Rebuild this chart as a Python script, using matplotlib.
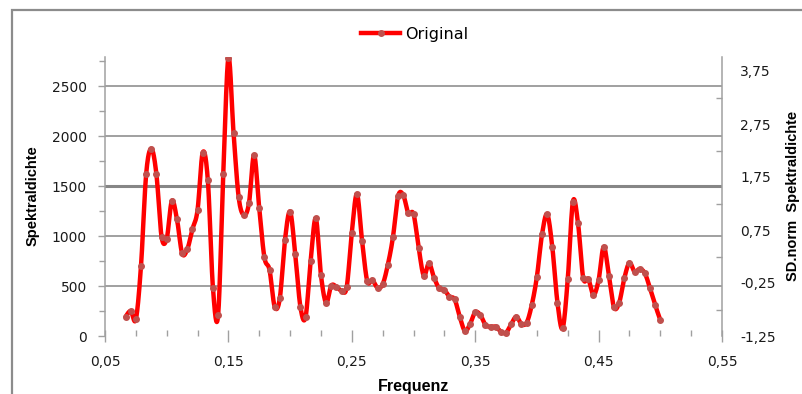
import numpy as np
import matplotlib
matplotlib.use("Agg")
import matplotlib.pyplot as plt
from matplotlib.patches import Rectangle
from matplotlib.lines import Line2D

# Frequency bins k/240, k = 16 .. 120
bin_index = list(range(16, 121))
frequency = [k / 240 for k in bin_index]

spectral_density = [
    193, 250, 167, 700, 1617, 1873, 1617, 993, 973, 1350,
    1167, 827, 867, 1067, 1260, 1833, 1560, 477, 210, 1620,
    2780, 2033, 1387, 1210, 1327, 1810, 1277, 787, 660, 293,
    377, 960, 1243, 820, 293, 187, 753, 1177, 610, 333,
    503, 493, 453, 487, 1033, 1420, 950, 550, 560, 483,
    517, 710, 987, 1397, 1410, 1227, 1220, 883, 603, 727,
    583, 477, 460, 393, 367, 193, 50, 120, 237, 210,
    110, 93, 93, 43, 33, 120, 193, 120, 133, 310,
    593, 1017, 1217, 887, 333, 77, 567, 1343, 1127, 583,
    570, 410, 560, 893, 603, 287, 333, 577, 733, 643,
    670, 627, 477, 310, 160,
]

x_ticks = [0.05, 0.15, 0.25, 0.35, 0.45, 0.55]
x_tick_labels = ["0,05", "0,15", "0,25", "0,35", "0,45", "0,55"]
y_ticks = [0, 500, 1000, 1500, 2000, 2500]
y_tick_labels = ["0", "500", "1000", "1500", "2000", "2500"]
norm_ticks = [-1.25, -0.25, 0.75, 1.75, 2.75, 3.75]
norm_tick_labels = ["-1,25", "-0,25", "0,75", "1,75", "2,75", "3,75"]

# normalisation used for the secondary axis
sd_mean = 662.5
sd_std = 530.0
y_max = 2790


def smooth_curve(xs, ys, steps=16):
    """Bezier smoothing through all points (Catmull-Rom style control points)."""
    xs = np.asarray(xs, float)
    ys = np.asarray(ys, float)
    px = np.concatenate([[xs[0]], xs, [xs[-1]]])
    py = np.concatenate([[ys[0]], ys, [ys[-1]]])
    t = np.linspace(0, 1, steps, endpoint=False)[:, None]
    out_x, out_y = [], []
    for i in range(1, len(px) - 2):
        p0 = np.array([px[i], py[i]])
        p3 = np.array([px[i + 1], py[i + 1]])
        c1 = p0 + (np.array([px[i + 1], py[i + 1]]) - np.array([px[i - 1], py[i - 1]])) / 6
        c2 = p3 - (np.array([px[i + 2], py[i + 2]]) - np.array([px[i], py[i]])) / 6
        seg = ((1 - t) ** 3) * p0 + 3 * ((1 - t) ** 2) * t * c1 + 3 * (1 - t) * t ** 2 * c2 + t ** 3 * p3
        out_x.append(seg[:, 0])
        out_y.append(seg[:, 1])
    out_x.append([xs[-1]])
    out_y.append([ys[-1]])
    return np.concatenate(out_x), np.concatenate(out_y)


W, H = 802, 394
fig = plt.figure(figsize=(W / 100, H / 100), dpi=100)
fig.patch.set_facecolor("white")

# outer chart frame
fig.add_artist(Rectangle((12 / W, -0.2), 1.2, (H - 10) / H + 0.2,
                         transform=fig.transFigure, fill=False,
                         edgecolor="#8c8c8c", linewidth=1.6))

ax = fig.add_axes([105 / W, (H - 336) / H, (722 - 105) / W, (336 - 57) / H])
ax.set_xlim(0.05, 0.55)
ax.set_ylim(0, y_max)

grid_color = "#868686"
for v in y_ticks[1:]:
    lw = 2.2 if v == 1500 else 1.1
    ax.axhline(v, color=grid_color, linewidth=lw, zorder=1)

sx, sy = smooth_curve(frequency, spectral_density)
ax.plot(sx, sy, color="#ff0000", linewidth=3.2, solid_capstyle="round",
        zorder=3, clip_on=True)
ax.plot(frequency, spectral_density, linestyle="none", marker="o",
        markersize=4.0, markerfacecolor="#c0504d", markeredgecolor="#c0504d",
        zorder=4)

for side in ("top", "right", "bottom"):
    ax.spines[side].set_visible(False)
ax.spines["left"].set_color("#a0a0a0")
ax.spines["left"].set_linewidth(1.1)

ax.set_xticks(x_ticks)
ax.set_xticklabels(x_tick_labels)
ax.set_xticks(np.arange(0.075, 0.55, 0.025), minor=True)
ax.set_yticks(y_ticks)
ax.set_yticklabels(y_tick_labels)
ax.set_yticks(np.arange(250, y_max, 500), minor=True)

ax.tick_params(axis="x", which="major", direction="inout", length=9, width=1,
               color="#a0a0a0", labelsize=10, labelcolor="#1a1a1a", pad=9)
ax.tick_params(axis="x", which="minor", direction="in", length=4, width=1,
               color="#a0a0a0")
ax.tick_params(axis="y", which="major", direction="out", length=5, width=1,
               color="#a0a0a0", labelsize=10, labelcolor="#1a1a1a", pad=8)
ax.tick_params(axis="y", which="minor", direction="out", length=4, width=1,
               color="#a0a0a0")

# secondary axis with the normalised scale
ax2 = ax.twinx()
ax2.set_ylim((0 - sd_mean) / sd_std, (y_max - sd_mean) / sd_std)
for side in ("top", "left", "bottom"):
    ax2.spines[side].set_visible(False)
ax2.spines["right"].set_color("#a0a0a0")
ax2.spines["right"].set_linewidth(1.1)
ax2.set_yticks(norm_ticks)
ax2.set_yticklabels(norm_tick_labels)
ax2.set_yticks(np.arange(-0.75, 4.0, 1.0), minor=True)
ax2.tick_params(axis="y", which="major", direction="in", length=0,
                labelsize=10, labelcolor="#1a1a1a", pad=13)
ax2.tick_params(axis="y", which="minor", direction="in", length=4, width=1,
                color="#a0a0a0")

# axis titles
label_font = dict(family="Liberation Sans", fontweight="bold", color="black")
fig.text(33 / W, 1 - 196 / H, "Spektraldichte", rotation=90,
         ha="center", va="center", fontsize=10.5, **label_font)
fig.text(413.5 / W, 1 - 386 / H, "Frequenz",
         ha="center", va="center", fontsize=11.5, **label_font)
fig.text(793 / W, 1 - 196 / H, "SD.norm  Spektraldichte", rotation=90,
         ha="center", va="center", fontsize=10.5, **label_font)

# legend entry at the top
handle = Line2D([], [], color="#ff0000", linewidth=3.2, marker="o",
                markersize=4.0, markerfacecolor="#c0504d",
                markeredgecolor="#c0504d")
fig.legend([handle], ["Original"], loc="center",
           bbox_to_anchor=(415 / W, (H - 34) / H), frameon=False,
           fontsize=11.5, handlelength=2.4, handletextpad=0.35,
           borderpad=0, borderaxespad=0)

fig.savefig("out.png", dpi=100)
